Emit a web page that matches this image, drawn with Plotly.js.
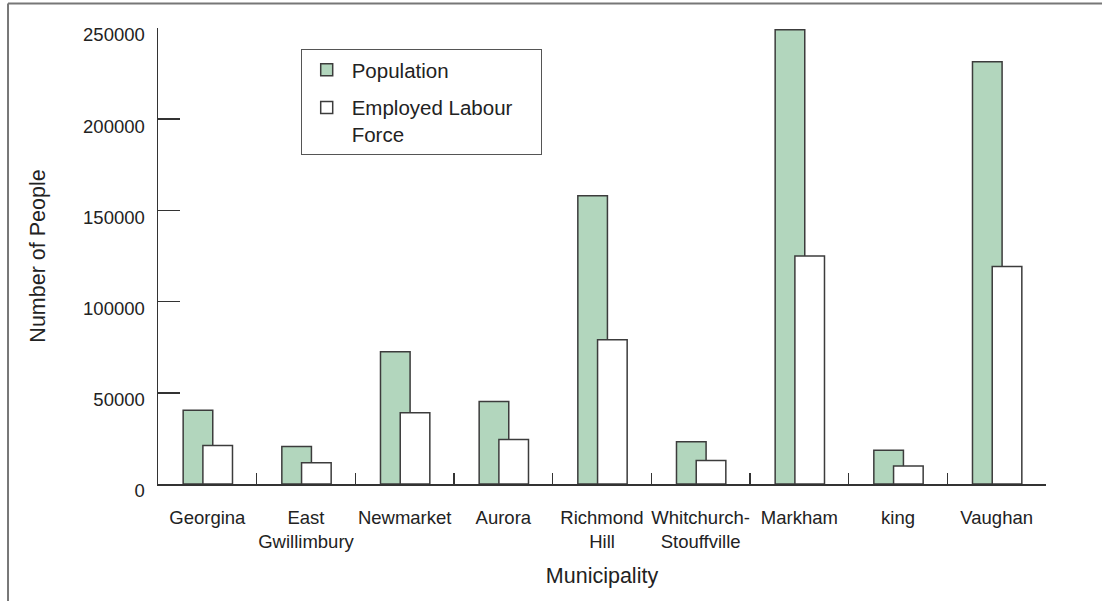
<!DOCTYPE html>
<html>
<head>
<meta charset="utf-8">
<script src="https://cdn.plot.ly/plotly-3.0.1.min.js"></script>
<style>html,body{margin:0;padding:0;background:#fff;}#chart{width:1102px;height:601px;}</style>
</head>
<body>
<div id="chart"></div>
<script>
const categories = ["Georgina", "East<br>Gwillimbury", "Newmarket", "Aurora", "Richmond<br>Hill", "Whitchurch-<br>Stouffville", "Markham", "king", "Vaughan"];
const population = [40400, 20500, 72500, 45200, 158000, 23100, 249000, 18500, 231500];
const labourForce = [21100, 11600, 39000, 24400, 79100, 12900, 125000, 9800, 119300];
const yTicks = [0, 50000, 100000, 150000, 200000, 250000];

const FONT = "Liberation Sans, Arial, sans-serif";
const NB = "\u00A0\u00A0\u00A0\u00A0";
const traces = [
  {type: "bar", name: "Population", x: categories, y: population, legendgroup: "a",
   width: 0.3, offset: -0.245,
   marker: {color: "#b2d6bd", line: {color: "#3c3c3c", width: 1.5}}},
  {type: "bar", name: "Employed Labour" + NB + "<br>Force", x: categories, y: labourForce, legendgroup: "b",
   width: 0.3, offset: -0.045,
   marker: {color: "#ffffff", line: {color: "#3c3c3c", width: 1.5}}}
];
const layout = {
  width: 1102, height: 601,
  margin: {l: 158, r: 56, t: 28, b: 116.5},
  paper_bgcolor: "#fff", plot_bgcolor: "#fff",
  barmode: "overlay",
  font: {family: FONT, size: 18, color: "#222"},
  showlegend: true,
  legend: {x: 0.1607, y: 0.954, xanchor: "left", yanchor: "top", valign: "top",
           bgcolor: "#fff", bordercolor: "#555", borderwidth: 1, itemwidth: 40,
           font: {family: FONT, size: 20.5, color: "#222"}, tracegroupgap: 8},
  xaxis: {type: "category", tickson: "boundaries", ticks: "inside", ticklen: 11, tickangle: 0,
          tickcolor: "#333", tickwidth: 1.5, showline: true, linecolor: "#333", linewidth: 1.5,
          showgrid: false, zeroline: false, ticklabelstandoff: 16,
          tickfont: {family: FONT, size: 18.5, color: "#222"},
          title: {text: "Municipality", font: {family: FONT, size: 21.5, color: "#222"}, standoff: 17}},
  yaxis: {range: [0, 250000], tickvals: yTicks, ticktext: yTicks.map(String),
          ticks: "inside", ticklen: 22, tickcolor: "#333", tickwidth: 1.5,
          showline: true, linecolor: "#333", linewidth: 1.5, showgrid: false, zeroline: false,
          ticklabelstandoff: 8, ticklabelshift: 7,
          tickfont: {family: FONT, size: 18.5, color: "#222"},
          title: {text: "Number of People", font: {family: FONT, size: 21.5, color: "#222"}, standoff: 31}},
  shapes: [
    {type: "line", xref: "paper", yref: "paper", x0: -0.1689, x1: 1.07, y0: 1.0537, y1: 1.0537,
     line: {color: "#777", width: 2}},
    {type: "line", xref: "paper", yref: "paper", x0: -0.1689, x1: -0.1689, y0: 1.0537, y1: -0.26,
     line: {color: "#777", width: 2}}
  ]
};
Plotly.newPlot("chart", traces, layout, {displayModeBar: false, staticPlot: true});
</script>
</body>
</html>
